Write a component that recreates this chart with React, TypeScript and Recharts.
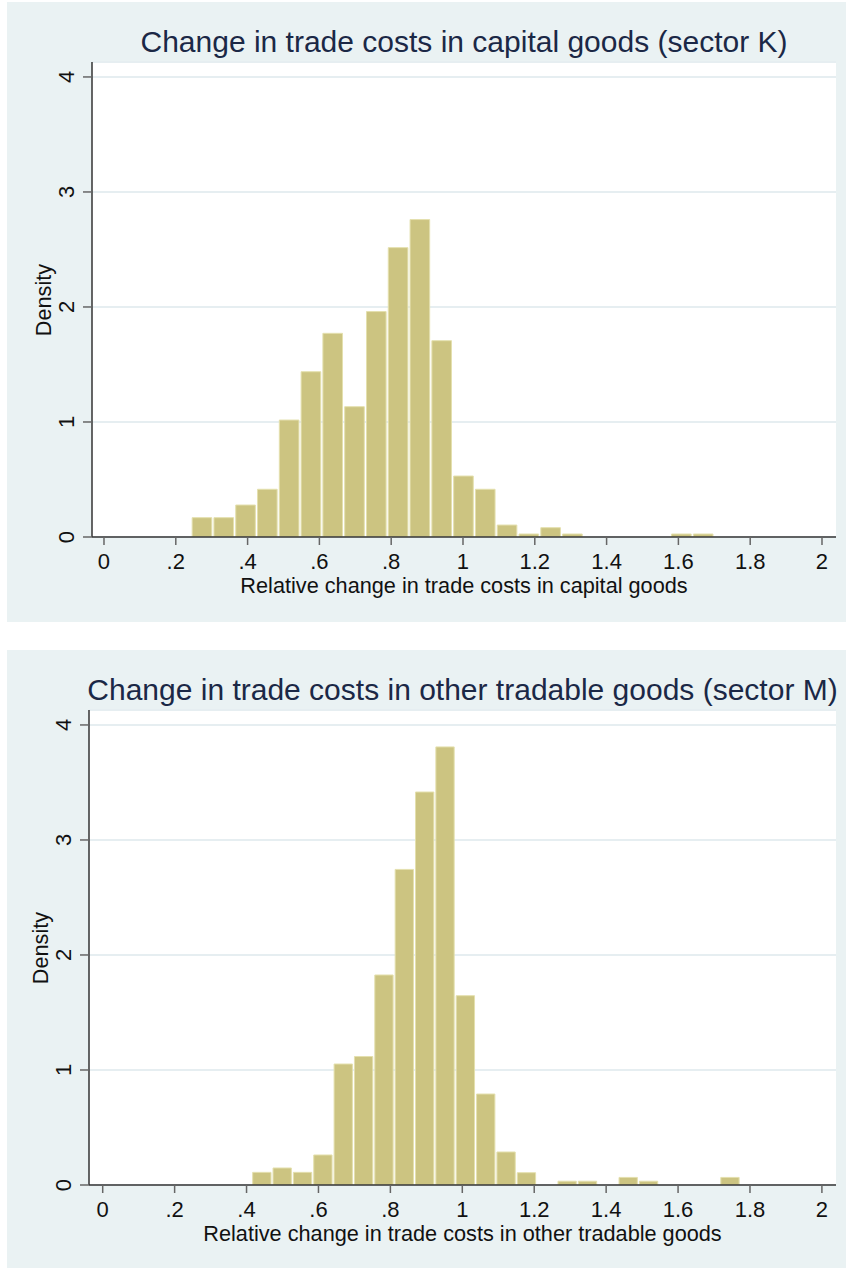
import { ComposedChart, Bar, XAxis, YAxis, CartesianGrid } from "recharts"

const FONT = '"Liberation Sans", Arial, Helvetica, sans-serif'

const xTicks = [0, 0.2, 0.4, 0.6, 0.8, 1, 1.2, 1.4, 1.6, 1.8, 2]
const xTickLabels = ["0", ".2", ".4", ".6", ".8", "1", "1.2", "1.4", "1.6", "1.8", "2"]
const yTicks = [0, 1, 2, 3, 4]

// sector K histogram: lower bin edges and density
const kBinWidth = 0.0607
const kBinStarts = [
  0.2428, 0.3035, 0.3642, 0.4249, 0.4856, 0.5463, 0.607, 0.6677, 0.7284, 0.7891,
  0.8498, 0.9105, 0.9712, 1.0319, 1.0926, 1.1533, 1.214, 1.2747, 1.5782, 1.6389,
]
const kDensity = [
  0.168, 0.168, 0.278, 0.415, 1.017, 1.437, 1.771, 1.133, 1.96, 2.516,
  2.76, 1.707, 0.53, 0.415, 0.104, 0.026, 0.081, 0.026, 0.026, 0.026,
]

// sector M histogram
const mBinWidth = 0.0566
const mBinStarts = [
  0.4143, 0.4709, 0.5275, 0.5841, 0.6407, 0.6973, 0.7539, 0.8105, 0.8671, 0.9237,
  0.9803, 1.0369, 1.0935, 1.1501, 1.2633, 1.3199, 1.4331, 1.4897, 1.7161,
]
const mDensity = [
  0.11, 0.148, 0.11, 0.261, 1.052, 1.117, 1.826, 2.744, 3.417, 3.809,
  1.646, 0.791, 0.287, 0.107, 0.033, 0.033, 0.066, 0.033, 0.066,
]

const XTick = (props: any) => {
  const { x, y, payload } = props
  let idx = 0
  xTicks.forEach((t, i) => {
    if (Math.abs(t - payload.value) < Math.abs(xTicks[idx] - payload.value)) idx = i
  })
  return (
    <text x={x} y={y + 16.5} dy="0.36em" textAnchor="middle" fontSize={22} fontFamily={FONT} fill="#111">
      {xTickLabels[idx]}
    </text>
  )
}

const YTick = (props: any) => {
  const { x, y, payload } = props
  return (
    <text
      transform={`translate(${x - 17},${y}) rotate(-90)`}
      dy="0.36em"
      textAnchor="middle"
      fontSize={22}
      fontFamily={FONT}
      fill="#111"
    >
      {payload.value}
    </text>
  )
}

type PanelProps = {
  top: number
  height: number
  yAxisWidth: number
  xMin: number
  xMax: number
  title: string
  xLabel: string
  starts: number[]
  density: number[]
  binWidth: number
}

function Panel({ top, height, yAxisWidth, xMin, xMax, title, xLabel, starts, density, binWidth }: PanelProps) {
  const width = 839
  const marginTop = 60
  const marginRight = 10
  const plotBottom = 535
  const xAxisHeight = height - plotBottom
  const plotWidth = width - marginRight - yAxisWidth
  const barSize = (binWidth * plotWidth) / (xMax - xMin)
  const plotCenter = yAxisWidth + plotWidth / 2
  const data = starts.map((s, i) => ({ x: s + binWidth / 2, density: density[i] }))

  return (
    <div style={{ position: "absolute", left: 7, top, width, height, background: "#eaf2f3" }}>
      <div
        style={{
          position: "absolute",
          left: plotCenter - 450,
          width: 900,
          top: 40 - 17,
          lineHeight: "34px",
          textAlign: "center",
          fontFamily: FONT,
          fontSize: 30,
          color: "#1b2846",
          whiteSpace: "nowrap",
        }}
      >
        {title}
      </div>
      <ComposedChart
        width={width}
        height={height}
        data={data}
        margin={{ top: marginTop, right: marginRight, bottom: 0, left: 0 }}
      >
        <CartesianGrid vertical={false} stroke="#e6eef1" strokeWidth={2} fill="#ffffff" fillOpacity={1} />
        <XAxis
          type="number"
          dataKey="x"
          domain={[xMin, xMax]}
          ticks={xTicks}
          interval={0}
          allowDataOverflow
          height={xAxisHeight}
          tickSize={8}
          tickMargin={0}
          axisLine={{ stroke: "#333", strokeWidth: 1.5 }}
          tickLine={{ stroke: "#666", strokeWidth: 1.5 }}
          tick={<XTick />}
        />
        <YAxis
          type="number"
          domain={[0, 4.13]}
          ticks={yTicks}
          interval={0}
          allowDataOverflow
          width={yAxisWidth}
          tickSize={9}
          tickMargin={0}
          axisLine={{ stroke: "#333", strokeWidth: 1.5 }}
          tickLine={{ stroke: "#666", strokeWidth: 1.5 }}
          tick={<YTick />}
        />
        <Bar
          dataKey="density"
          fill="#ccc481"
          stroke="#e4e0ae"
          strokeWidth={1}
          barSize={barSize}
          isAnimationActive={false}
        />
      </ComposedChart>
      <div
        style={{
          position: "absolute",
          left: plotCenter - 400,
          width: 800,
          top: plotBottom + 49 - 10,
          lineHeight: "20px",
          textAlign: "center",
          fontFamily: FONT,
          fontSize: 21.7,
          color: "#111",
          whiteSpace: "nowrap",
        }}
      >
        {xLabel}
      </div>
      <div
        style={{
          position: "absolute",
          left: yAxisWidth - 48 - 100,
          width: 200,
          top: (marginTop + plotBottom) / 2 - 12,
          lineHeight: "24px",
          textAlign: "center",
          fontFamily: FONT,
          fontSize: 21.7,
          color: "#111",
          transform: "rotate(-90deg)",
        }}
      >
        Density
      </div>
    </div>
  )
}

export default function App() {
  return (
    <div style={{ position: "absolute", left: 0, top: 0, width: 846, height: 1268, background: "#fff" }}>
      <Panel
        top={2}
        height={620}
        yAxisWidth={85}
        xMin={-0.0334}
        xMax={2.039}
        title="Change in trade costs in capital goods (sector K)"
        xLabel="Relative change in trade costs in capital goods"
        starts={kBinStarts}
        density={kDensity}
        binWidth={kBinWidth}
      />
      <Panel
        top={650}
        height={618}
        yAxisWidth={82}
        xMin={-0.0381}
        xMax={2.0392}
        title="Change in trade costs in other tradable goods (sector M)"
        xLabel="Relative change in trade costs in other tradable goods"
        starts={mBinStarts}
        density={mDensity}
        binWidth={mBinWidth}
      />
    </div>
  )
}
